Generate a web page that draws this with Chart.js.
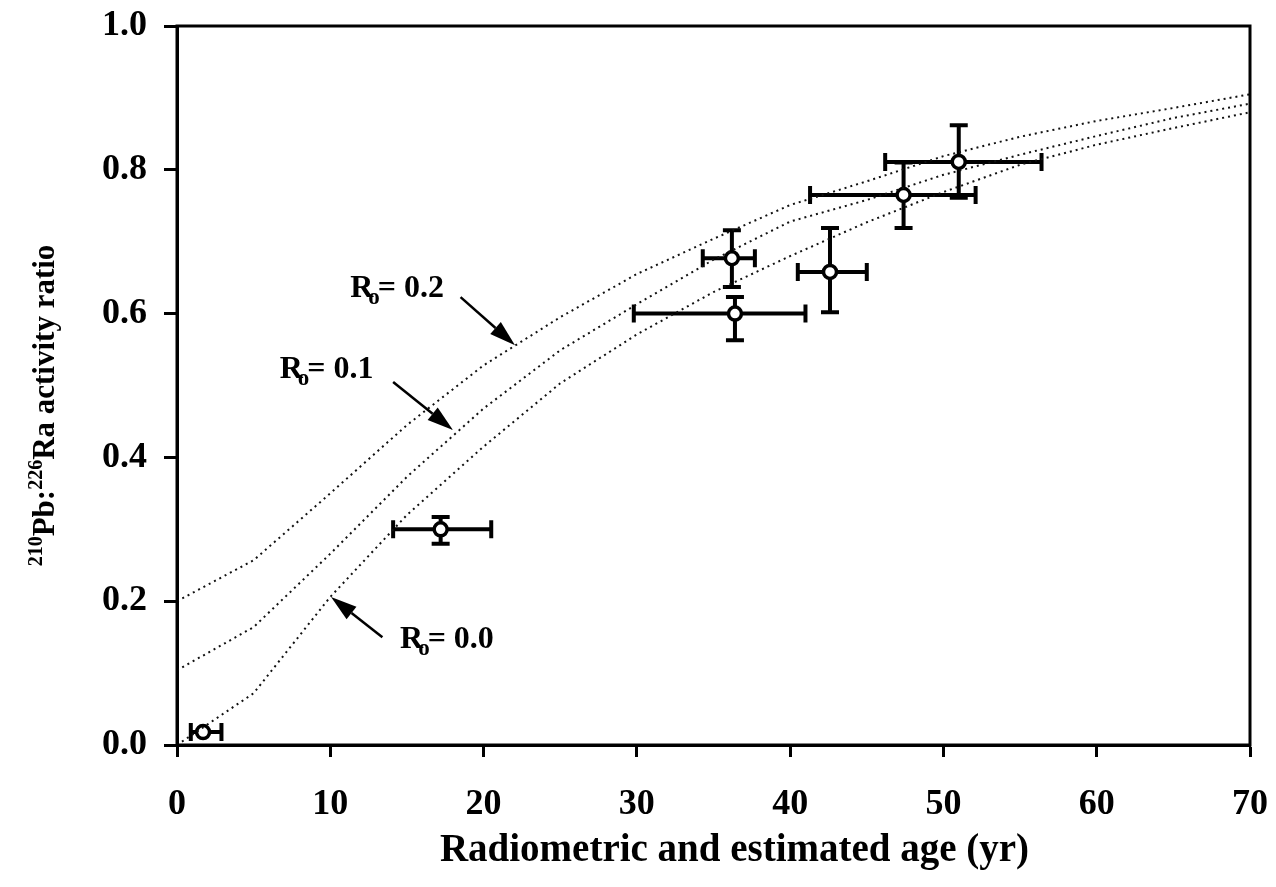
<!DOCTYPE html>
<html>
<head>
<meta charset="utf-8">
<script src="https://cdn.jsdelivr.net/npm/chart.js@4"></script>
<style>
  html, body { margin: 0; padding: 0; background: #fff; }
  #wrap { width: 1276px; height: 887px; }
</style>
</head>
<body>
<div id="wrap"><canvas id="chart" width="1276" height="887"></canvas></div>
<script>
const curveAge = [0, 5, 10, 15, 20, 25, 30, 35, 40, 45, 50, 55, 60, 65, 70];
const ro02 = [0.200, 0.257, 0.350, 0.445, 0.528, 0.595, 0.655, 0.704, 0.751, 0.784, 0.819, 0.846, 0.868, 0.886, 0.905];
const ro01 = [0.104, 0.164, 0.266, 0.373, 0.468, 0.549, 0.613, 0.675, 0.728, 0.758, 0.793, 0.821, 0.847, 0.872, 0.892];
const ro00 = [0.000, 0.072, 0.206, 0.320, 0.415, 0.503, 0.571, 0.630, 0.680, 0.727, 0.769, 0.807, 0.835, 0.858, 0.880];

// measured samples
const sampleAge = [1.7, 17.2, 36.4, 36.2, 42.6, 47.4, 51.0];
const sampleRatio = [0.018, 0.300, 0.600, 0.677, 0.658, 0.765, 0.811];
const ageMin = [0.9, 14.1, 29.8, 34.3, 40.5, 41.3, 46.2];
const ageMax = [2.9, 20.5, 41.0, 37.7, 45.0, 52.1, 56.4];
const ratioMin = [0.018, 0.280, 0.563, 0.637, 0.602, 0.719, 0.761];
const ratioMax = [0.018, 0.317, 0.623, 0.716, 0.719, 0.810, 0.862];

const xTicks = [0, 10, 20, 30, 40, 50, 60, 70];
const yTicks = [0, 0.2, 0.4, 0.6, 0.8, 1.0];

// curve labels: label start, arrow tail, arrow tip (data units)
const curveLabels = [
    { text: '0.2', x: 11.3, y: 0.623, tail: [18.5, 0.623], tip: [22.05, 0.556] },
    { text: '0.1', x: 6.7, y: 0.510, tail: [14.1, 0.505], tip: [18.0, 0.438] },
    { text: '0.0', x: 14.55, y: 0.135, tail: [13.4, 0.150], tip: [10.05, 0.206] }
];

const FONT = '"Liberation Serif", "Times New Roman", serif';

function pts(xs, ys) {
    return xs.map((x, i) => ({ x: x, y: ys[i] }));
}

function curve(ys) {
    return {
        type: 'line',
        data: pts(curveAge, ys),
        borderColor: '#111',
        borderWidth: 2,
        borderDash: [2, 4],
        pointRadius: 0,
        tension: 0,
        fill: false
    };
}

const errorBars = {
    id: 'errorBars',
    beforeDatasetDraw(chart, args) {
        if (args.index !== 3) return;
        const ctx = chart.ctx, xs = chart.scales.x, ys = chart.scales.y;
        ctx.save();
        ctx.strokeStyle = '#000';
        ctx.lineWidth = 4;
        ctx.lineCap = 'butt';
        for (let i = 0; i < sampleAge.length; i++) {
            const cx = xs.getPixelForValue(sampleAge[i]);
            const cy = ys.getPixelForValue(sampleRatio[i]);
            const x0 = xs.getPixelForValue(ageMin[i]);
            const x1 = xs.getPixelForValue(ageMax[i]);
            ctx.beginPath();
            ctx.moveTo(x0, cy); ctx.lineTo(x1, cy);
            ctx.moveTo(x0, cy - 9); ctx.lineTo(x0, cy + 9);
            ctx.moveTo(x1, cy - 9); ctx.lineTo(x1, cy + 9);
            ctx.stroke();
            if (ratioMax[i] > ratioMin[i]) {
                const y0 = ys.getPixelForValue(ratioMin[i]);
                const y1 = ys.getPixelForValue(ratioMax[i]);
                ctx.beginPath();
                ctx.moveTo(cx, y0); ctx.lineTo(cx, y1);
                ctx.moveTo(cx - 9, y0); ctx.lineTo(cx + 9, y0);
                ctx.moveTo(cx - 9, y1); ctx.lineTo(cx + 9, y1);
                ctx.stroke();
            }
        }
        ctx.restore();
    }
};

function drawArrow(ctx, ax, ay, bx, by) {
    const ang = Math.atan2(by - ay, bx - ax);
    const len = 26, half = 8;
    const hx = bx - Math.cos(ang) * len, hy = by - Math.sin(ang) * len;
    ctx.beginPath();
    ctx.moveTo(ax, ay); ctx.lineTo(hx, hy);
    ctx.stroke();
    ctx.beginPath();
    ctx.moveTo(bx, by);
    ctx.lineTo(hx - Math.sin(ang) * half, hy + Math.cos(ang) * half);
    ctx.lineTo(hx + Math.sin(ang) * half, hy - Math.cos(ang) * half);
    ctx.closePath();
    ctx.fill();
}

const decorations = {
    id: 'decorations',
    afterDraw(chart) {
        const ctx = chart.ctx, a = chart.chartArea;
        const xs = chart.scales.x, ys = chart.scales.y;
        ctx.save();
        // frame
        ctx.strokeStyle = '#000';
        ctx.lineWidth = 3;
        ctx.strokeRect(a.left, a.top, a.right - a.left, a.bottom - a.top);

        // curve labels with arrows
        ctx.fillStyle = '#000';
        ctx.lineWidth = 2.5;
        ctx.textBaseline = 'alphabetic';
        ctx.textAlign = 'left';
        curveLabels.forEach(l => {
            let px = xs.getPixelForValue(l.x), py = ys.getPixelForValue(l.y);
            ctx.font = 'bold 32px ' + FONT;
            ctx.fillText('R', px, py);
            const wr = ctx.measureText('R').width;
            ctx.font = 'bold 23px ' + FONT;
            ctx.fillText('o', px + wr - 5, py + 7);
            const wo = ctx.measureText('o').width;
            ctx.font = 'bold 32px ' + FONT;
            ctx.fillText('= ' + l.text, px + wr + wo - 7, py);
            drawArrow(ctx,
                xs.getPixelForValue(l.tail[0]), ys.getPixelForValue(l.tail[1]),
                xs.getPixelForValue(l.tip[0]), ys.getPixelForValue(l.tip[1]));
        });

        // x axis title
        ctx.font = 'bold 39px ' + FONT;
        ctx.textAlign = 'center';
        ctx.textBaseline = 'middle';
        ctx.fillText('Radiometric and estimated age (yr)', (a.left + a.right) / 2 + 21, a.bottom + 106);

        // y axis title with superscripts
        ctx.textAlign = 'left';
        ctx.textBaseline = 'alphabetic';
        const parts = [
            ['210', 'bold 20px ', -12], ['Pb:', 'bold 31px ', 0], ['226', 'bold 20px ', -12], ['Ra activity ratio', 'bold 31px ', 0]
        ];
        let total = 0;
        parts.forEach(p => { ctx.font = p[1] + FONT; total += ctx.measureText(p[0]).width; });
        ctx.translate(54, (a.top + a.bottom) / 2 + 20);
        ctx.rotate(-Math.PI / 2);
        let pos = -total / 2;
        parts.forEach(p => {
            ctx.font = p[1] + FONT;
            ctx.fillText(p[0], pos, p[2]);
            pos += ctx.measureText(p[0]).width;
        });
        ctx.restore();
    }
};

new Chart(document.getElementById('chart'), {
    type: 'scatter',
    data: {
        datasets: [
            curve(ro02),
            curve(ro01),
            curve(ro00),
            {
                type: 'scatter',
                data: pts(sampleAge, sampleRatio),
                pointRadius: 6.5,
                pointBorderWidth: 3.5,
                pointBackgroundColor: '#fff',
                pointBorderColor: '#000'
            }
        ]
    },
    options: {
        responsive: false,
        devicePixelRatio: 1,
        animation: false,
        layout: { padding: { left: 0, top: 26, right: 26, bottom: 0 } },
        plugins: { legend: { display: false }, tooltip: { enabled: false } },
        scales: {
            x: {
                type: 'linear',
                min: 0,
                max: 70,
                afterBuildTicks: s => { s.ticks = xTicks.map(v => ({ value: v })); },
                afterFit: s => { s.height = 142; s.paddingLeft = 0; s.paddingRight = 0; },
                border: { color: '#000', width: 3 },
                grid: { drawOnChartArea: false, drawTicks: true, tickLength: 12, tickWidth: 3, tickColor: '#000' },
                ticks: { color: '#000', padding: 26, font: { family: FONT, size: 36, weight: 'bold' } }
            },
            y: {
                type: 'linear',
                min: 0,
                max: 1,
                afterBuildTicks: s => { s.ticks = yTicks.map(v => ({ value: v })); },
                afterFit: s => { s.width = 177; s.paddingTop = 0; s.paddingBottom = 0; },
                border: { color: '#000', width: 3 },
                grid: { drawOnChartArea: false, drawTicks: true, tickLength: 13, tickWidth: 3, tickColor: '#000' },
                ticks: {
                    color: '#000',
                    padding: 17,
                    font: { family: FONT, size: 36, weight: 'bold' },
                    callback: v => v.toFixed(1)
                }
            }
        }
    },
    plugins: [errorBars, decorations]
});
</script>
</body>
</html>
